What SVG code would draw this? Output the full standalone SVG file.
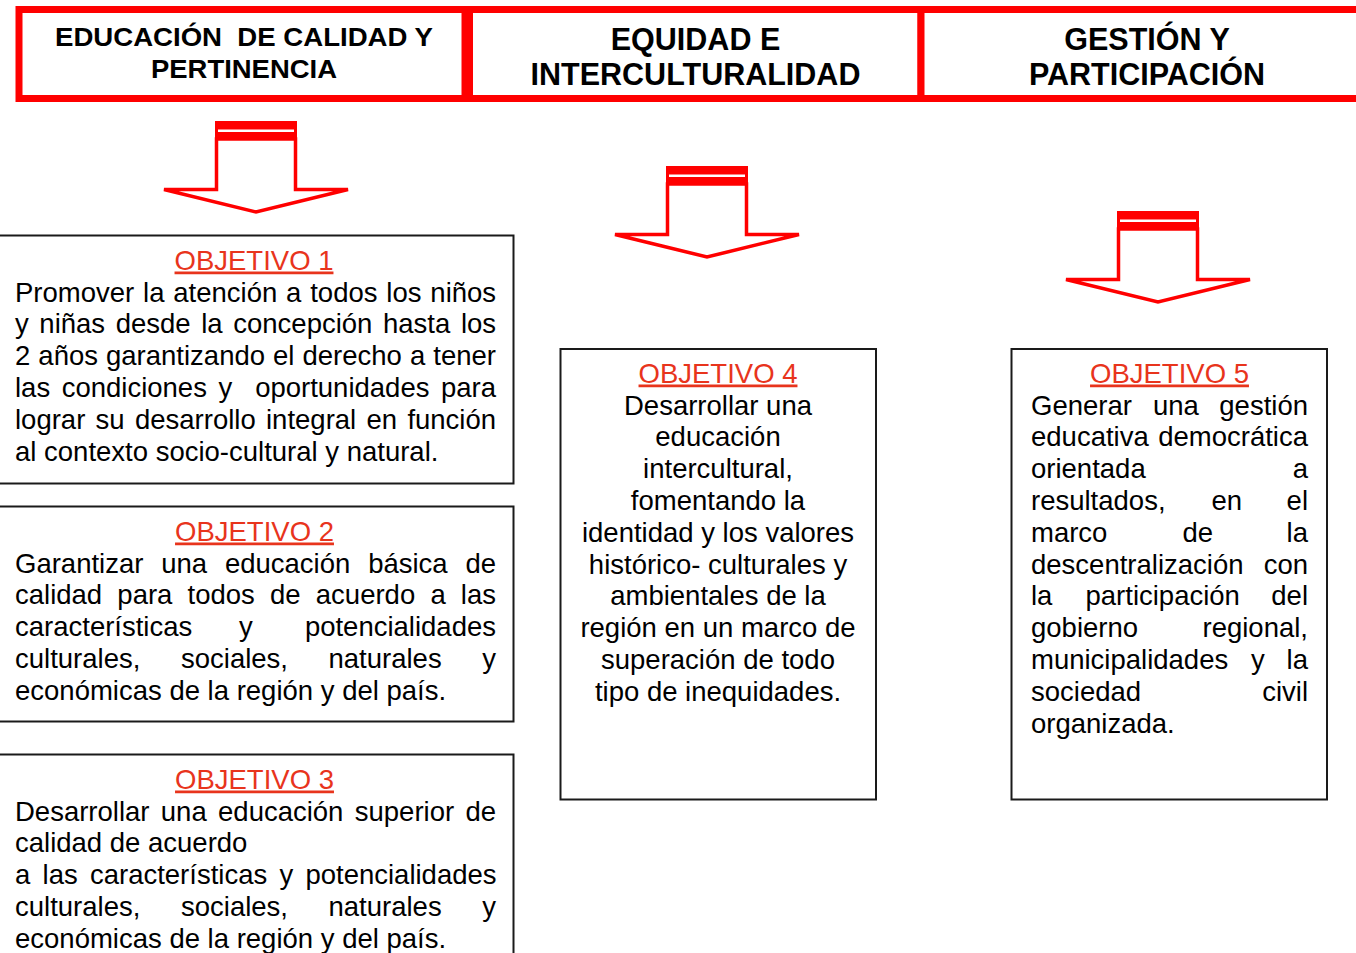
<svg xmlns="http://www.w3.org/2000/svg" xmlns:xlink="http://www.w3.org/1999/xlink" width="1356" height="953" viewBox="0 0 1356 953">
<style>
.hdr{fill:#fff;stroke:#ff0000;stroke-width:7}
.ht{font-family:"Liberation Sans",Arial,sans-serif;font-weight:bold;fill:#000;text-anchor:middle}
.box{fill:#fff;stroke:#1a1a1a;stroke-width:2}
.t{font-family:"Liberation Sans",Arial,sans-serif;font-size:27.5px;fill:#000}
.ttl{fill:#e8341c;text-decoration:underline;text-anchor:middle}
.c{text-anchor:middle}
.e{text-anchor:end}
</style>
<defs>
<g id="arr">
<path d="M216.5,139 V189.5 H164 L256,212 L348,189.5 H295.5 V139 Z" fill="#fff" stroke="#ff0000" stroke-width="3.5"/>
<rect x="215" y="121" width="82" height="18" fill="#ff0000"/>
<rect x="218" y="129.5" width="76" height="2.5" fill="#fff"/>
</g>
</defs>
<rect width="1356" height="953" fill="#fff"/>

<g id="hdr1">
<rect class="hdr" x="19" y="9.5" width="446" height="89"/>
<text class="ht" xml:space="preserve" x="244" y="46" font-size="25" textLength="378" lengthAdjust="spacingAndGlyphs">EDUCACIÓN  DE CALIDAD Y</text>
<text class="ht" x="244" y="78" font-size="25" textLength="186" lengthAdjust="spacingAndGlyphs">PERTINENCIA</text>
</g>
<g id="hdr2">
<rect class="hdr" x="469.5" y="9.5" width="451.5" height="89"/>
<text class="ht" x="695.5" y="50" font-size="30.5">EQUIDAD E</text>
<text class="ht" x="695.5" y="84.5" font-size="30.5">INTERCULTURALIDAD</text>
</g>
<g id="hdr3">
<rect class="hdr" x="921" y="9.5" width="445" height="89"/>
<text class="ht" x="1147" y="50" font-size="30.5">GESTIÓN Y</text>
<text class="ht" x="1147" y="84.5" font-size="30.5">PARTICIPACIÓN</text>
</g>

<g id="connectors">
<use xlink:href="#arr" href="#arr"/>
<use xlink:href="#arr" href="#arr" transform="translate(451,45)"/>
<use xlink:href="#arr" href="#arr" transform="translate(902,90)"/>
</g>

<g id="obj1">
<rect class="box" x="-2" y="235.5" width="515.5" height="248"/>
<text class="t ttl" x="254" y="269.5">OBJETIVO 1</text>
<text class="t" x="15" y="301.5" word-spacing="1.2">Promover la atención a todos los niños</text>
<text class="t" x="15" y="333.3" word-spacing="2.97">y niñas desde la concepción hasta los</text>
<text class="t" x="15" y="365.1" word-spacing="0.4">2 años garantizando el derecho a tener</text>
<text class="t" x="15" y="396.9" word-spacing="3.86" xml:space="preserve">las condiciones y  oportunidades para</text>
<text class="t" x="15" y="428.7" word-spacing="2.66">lograr su desarrollo integral en función</text>
<text class="t" x="15" y="460.5">al contexto socio-cultural y natural.</text>
</g>

<g id="obj2">
<rect class="box" x="-2" y="506.5" width="515.5" height="215"/>
<text class="t ttl" x="254.5" y="540.5">OBJETIVO 2</text>
<text class="t" x="15" y="572.5" word-spacing="10.2">Garantizar una educación básica de</text>
<text class="t" x="15" y="604.3" word-spacing="7.55">calidad para todos de acuerdo a las</text>
<text class="t" y="636.1"><tspan x="15">características</tspan><tspan x="239">y</tspan></text>
<text class="t e" x="496" y="636.1">potencialidades</text>
<text class="t" y="667.9"><tspan x="15">culturales,</tspan><tspan x="181">sociales,</tspan><tspan x="328.5">naturales</tspan></text>
<text class="t e" x="496" y="667.9">y</text>
<text class="t" x="15" y="699.7">económicas de la región y del país.</text>
</g>

<g id="obj3">
<rect class="box" x="-2" y="754.5" width="515.5" height="220"/>
<text class="t ttl" x="254.5" y="788.5">OBJETIVO 3</text>
<text class="t" x="15" y="820.5" word-spacing="3.7">Desarrollar una educación superior de</text>
<text class="t" x="15" y="852.3">calidad de acuerdo</text>
<text class="t" x="15" y="884.1" word-spacing="4.6">a las características y potencialidades</text>
<text class="t" y="915.9"><tspan x="15">culturales,</tspan><tspan x="181">sociales,</tspan><tspan x="328.5">naturales</tspan></text>
<text class="t e" x="496" y="915.9">y</text>
<text class="t" x="15" y="947.7">económicas de la región y del país.</text>
</g>

<g id="obj4">
<rect class="box" x="560.5" y="349" width="315.5" height="450.5"/>
<text class="t ttl" x="718" y="382.5">OBJETIVO 4</text>
<text class="t c" x="718" y="414.5">Desarrollar una</text>
<text class="t c" x="718" y="446.3">educación</text>
<text class="t c" x="718" y="478.1">intercultural,</text>
<text class="t c" x="718" y="509.9">fomentando la</text>
<text class="t c" x="718" y="541.7">identidad y los valores</text>
<text class="t c" x="718" y="573.5">histórico- culturales y</text>
<text class="t c" x="718" y="605.3">ambientales de la</text>
<text class="t c" x="718" y="637.1">región en un marco de</text>
<text class="t c" x="718" y="668.9">superación de todo</text>
<text class="t c" x="718" y="700.7">tipo de inequidades.</text>
</g>

<g id="obj5">
<rect class="box" x="1011.5" y="349" width="315.5" height="450.5"/>
<text class="t ttl" x="1169.5" y="382.5">OBJETIVO 5</text>
<text class="t" y="414.5"><tspan x="1031">Generar</tspan><tspan x="1153">una</tspan></text>
<text class="t e" x="1308" y="414.5">gestión</text>
<text class="t" x="1031" y="446.3">educativa</text>
<text class="t e" x="1308" y="446.3">democrática</text>
<text class="t" x="1031" y="478.1">orientada</text>
<text class="t e" x="1308" y="478.1">a</text>
<text class="t" y="509.9"><tspan x="1031">resultados,</tspan><tspan x="1211.5">en</tspan></text>
<text class="t e" x="1308" y="509.9">el</text>
<text class="t" y="541.7"><tspan x="1031">marco</tspan><tspan x="1182.5">de</tspan></text>
<text class="t e" x="1308" y="541.7">la</text>
<text class="t" x="1031" y="573.5">descentralización</text>
<text class="t e" x="1308" y="573.5">con</text>
<text class="t" y="605.3"><tspan x="1031">la</tspan><tspan x="1085.5">participación</tspan></text>
<text class="t e" x="1308" y="605.3">del</text>
<text class="t" x="1031" y="637.1">gobierno</text>
<text class="t e" x="1308" y="637.1">regional,</text>
<text class="t" y="668.9"><tspan x="1031">municipalidades</tspan><tspan x="1251">y</tspan></text>
<text class="t e" x="1308" y="668.9">la</text>
<text class="t" x="1031" y="700.7">sociedad</text>
<text class="t e" x="1308" y="700.7">civil</text>
<text class="t" x="1031" y="732.5">organizada.</text>
</g>
</svg>
